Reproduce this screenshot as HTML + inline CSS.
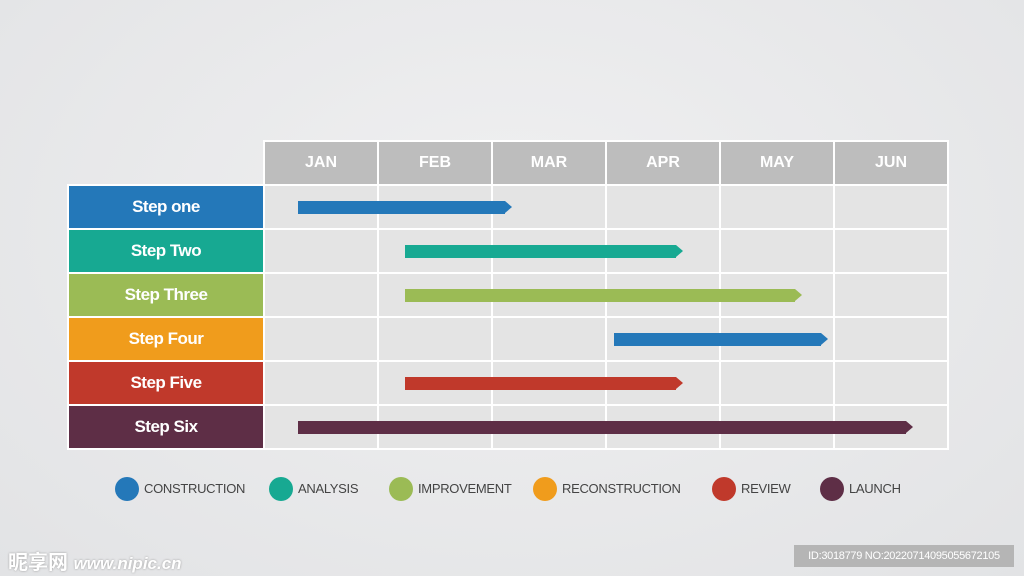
<!DOCTYPE html>
<html><head><meta charset="utf-8"><style>
html,body{margin:0;width:1024px;height:576px;overflow:hidden}
body{background:radial-gradient(ellipse at 50% 40%,#f0f0f1,#e2e3e5);font-family:"Liberation Sans",sans-serif;position:relative}
.a{position:absolute}
.h{background:#bdbdbd;color:#fff;font-size:16px;font-weight:bold;text-align:center;line-height:42px}
.c{background:#e4e4e4}
.l{color:#fff;font-weight:bold;font-size:17px;text-align:center;line-height:42px;letter-spacing:-0.5px}
.b{height:13px}
.b::after{content:"";position:absolute;right:-7px;top:0;border-left:7px solid;border-left-color:inherit;border-top:6.5px solid transparent;border-bottom:6.5px solid transparent}
.d{width:24px;height:24px;border-radius:50%}
.t{font-size:13px;color:#444;line-height:24px;letter-spacing:-0.3px;white-space:nowrap}
</style></head><body>
<div class="a" style="left:263px;top:140px;width:686px;height:310px;background:#fff"></div>
<div class="a" style="left:67px;top:184px;width:198px;height:266px;background:#fff"></div>
<div id="g"></div>
<script>
var m=["JAN","FEB","MAR","APR","MAY","JUN"],s="";
for(var i=0;i<6;i++){var x=265+i*114;s+='<div class="a h" style="left:'+x+'px;top:142px;width:112px;height:42px">'+m[i]+'</div>';
for(var r=0;r<6;r++)s+='<div class="a c" style="left:'+x+'px;top:'+(186+r*44)+'px;width:112px;height:42px"></div>';}
var L=[["Step one","#2478b9",298,505],["Step Two","#17a992",405,676],["Step Three","#9bbb55",405,795],["Step Four","#2478b9",614,821],["Step Five","#c0392b",405,676],["Step Six","#5e2e46",298,906]];
for(var r=0;r<6;r++){var y=186+r*44,col=["#2478b9","#17a992","#9bbb55","#f09c1c","#c0392b","#5e2e46"][r];
s+='<div class="a l" style="left:69px;top:'+y+'px;width:194px;height:42px;background:'+col+'">'+L[r][0]+'</div>';
s+='<div class="a b" style="left:'+L[r][2]+'px;top:'+(y+15)+'px;width:'+(L[r][3]-L[r][2])+'px;background:'+L[r][1]+';border-color:'+L[r][1]+'"></div>';}
var G=[["CONSTRUCTION","#2478b9",115],["ANALYSIS","#17a992",269],["IMPROVEMENT","#9bbb55",389],["RECONSTRUCTION","#f09c1c",533],["REVIEW","#c0392b",712],["LAUNCH","#5e2e46",820]];
for(var i=0;i<6;i++){s+='<div class="a d" style="left:'+G[i][2]+'px;top:477px;background:'+G[i][1]+'"></div><div class="a t" style="left:'+(G[i][2]+29)+'px;top:477px">'+G[i][0]+'</div>';}
document.getElementById("g").innerHTML=s;
</script>
<div class="a" style="left:8px;top:546px;color:#fff;font-size:20px;font-weight:bold;font-family:'Liberation Sans','Noto Sans CJK SC',sans-serif;text-shadow:0 0 2px #999;white-space:nowrap">昵享网 <span style="font-size:17px;font-style:italic">www.nipic.cn</span></div>
<div class="a" style="left:794px;top:545px;width:220px;height:22px;background:#b5b5b5;color:#fff;font-size:11px;line-height:22px;text-align:center;white-space:nowrap;letter-spacing:-0.3px">ID:3018779 NO:20220714095055672105</div>
</body></html>
